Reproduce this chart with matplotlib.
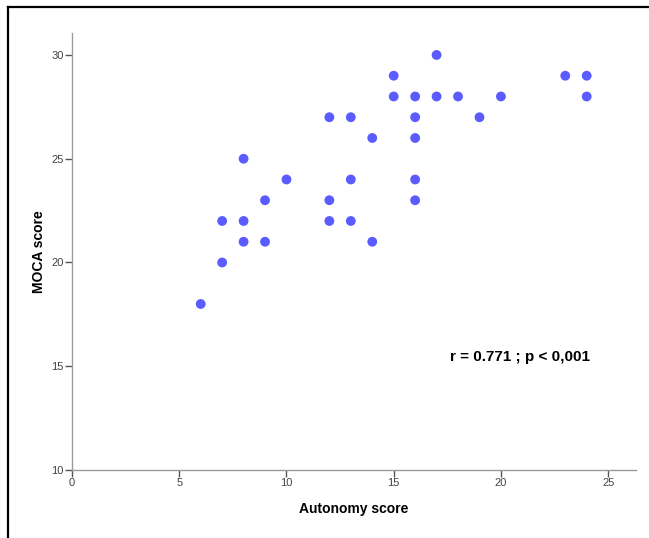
import matplotlib

matplotlib.use("Agg")
import matplotlib.pyplot as plt
from matplotlib.lines import Line2D

# autonomy score vs MOCA score
autonomy = [6, 7, 7, 8, 8, 8, 9, 9, 10, 12, 12, 12, 13, 13, 13, 14, 14,
            15, 15, 16, 16, 16, 16, 16, 17, 17, 18, 19, 20, 23, 24, 24]
moca = [18, 20, 22, 21, 22, 25, 21, 23, 24, 27, 23, 22, 27, 24, 22, 26, 21,
        29, 28, 28, 27, 26, 24, 23, 30, 28, 28, 27, 28, 29, 29, 28]
x_ticks = [0, 5, 10, 15, 20, 25]
y_ticks = [10, 15, 20, 25, 30]
stats_text = "r = 0.771 ; p < 0,001"

plt.rcParams["font.family"] = ["Liberation Sans", "DejaVu Sans"]

fig = plt.figure(figsize=(6.49, 5.38), dpi=100)
ax = fig.add_axes([0.111, 0.1264, 0.869, 0.8123])

ax.scatter(autonomy, moca, s=50, color="#5b5cff", edgecolors="none", zorder=3)

ax.set_xlim(0, 26.3)
ax.set_ylim(10, 31.06)
ax.set_xticks(x_ticks)
ax.set_yticks(y_ticks)

for side in ("top", "right"):
    ax.spines[side].set_visible(False)
for side in ("left", "bottom"):
    ax.spines[side].set_color("#9a9a9a")
    ax.spines[side].set_linewidth(1.0)

ax.tick_params(axis="both", direction="out", length=5, width=1, color="#555555",
               labelsize=8, labelcolor="#444444", pad=1)

ax.set_xlabel("Autonomy score", fontsize=10, fontweight="bold", labelpad=10)
ax.set_ylabel("MOCA score", fontsize=10, fontweight="bold", labelpad=4)

ax.text(20.9, 15.45, stats_text, fontsize=11, fontweight="bold",
        ha="center", va="center")

# partial outer frame (top and left edges only)
fig.add_artist(Line2D([0.0123, 1.0], [0.987, 0.987], transform=fig.transFigure,
                      color="black", linewidth=1.6))
fig.add_artist(Line2D([0.0123, 0.0123], [0.0, 0.987], transform=fig.transFigure,
                      color="black", linewidth=1.6))

fig.savefig("out.png", dpi=100)
plt.close(fig)
